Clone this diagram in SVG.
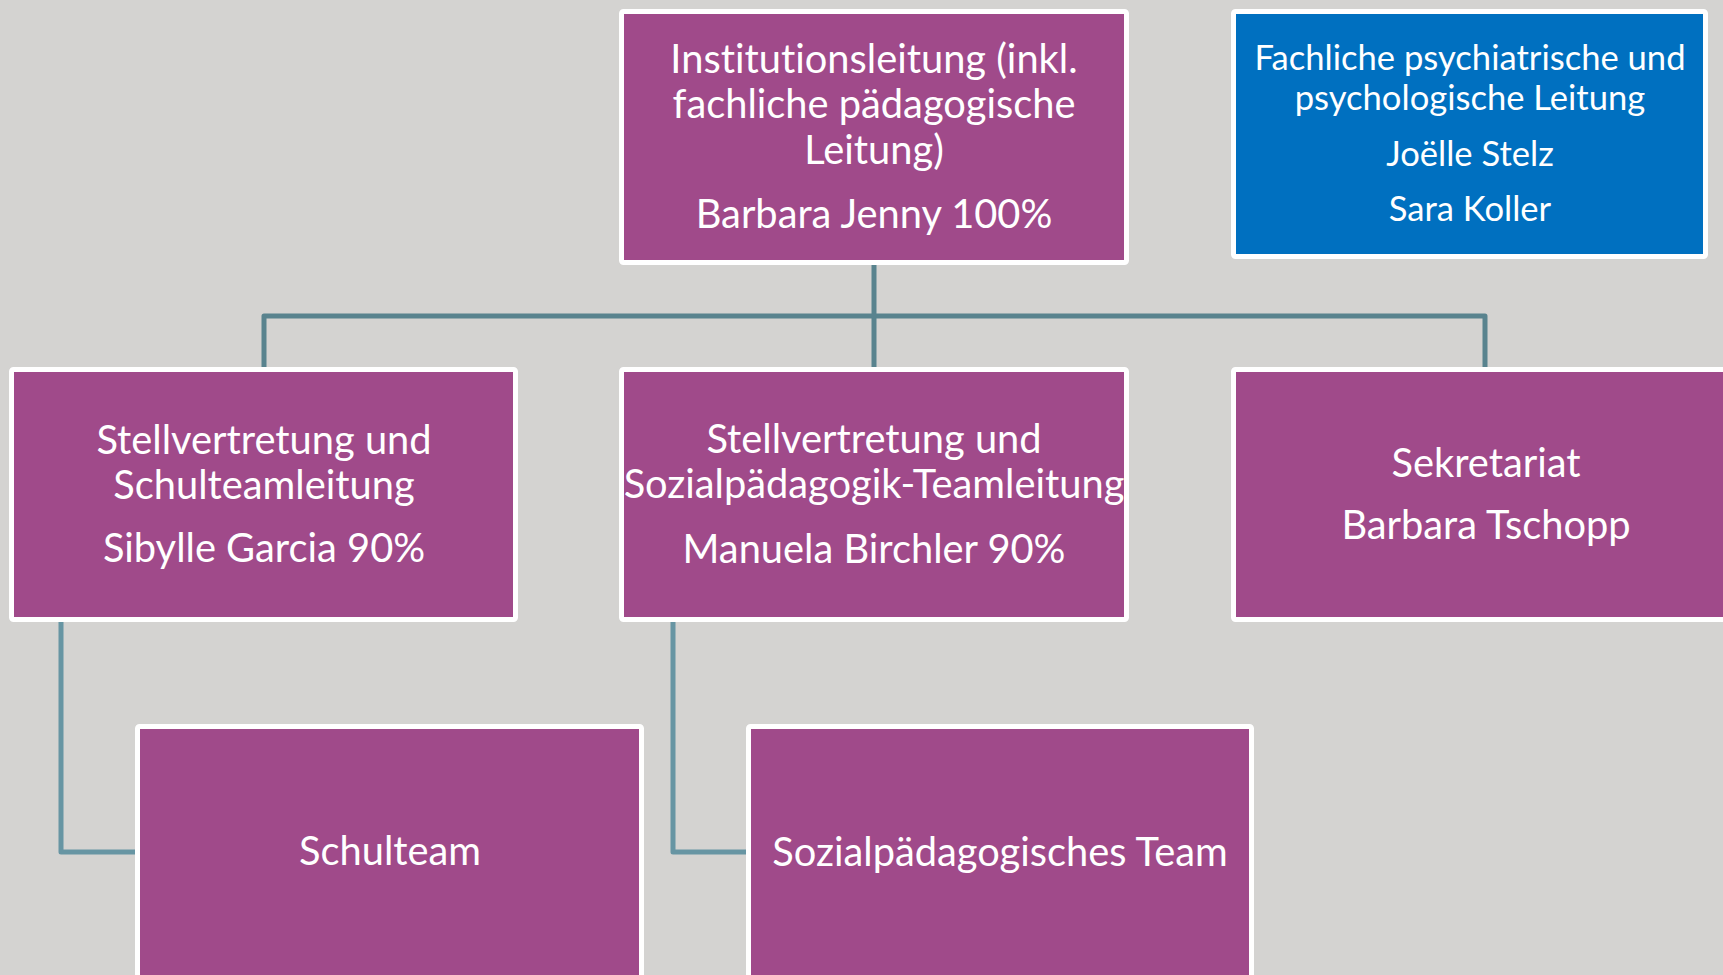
<svg xmlns="http://www.w3.org/2000/svg" width="1723" height="975" viewBox="0 0 1723 975">
<style>
.bg{fill:#D4D3D1}
.box{fill:#A04A8A;stroke:#FFFFFF;stroke-width:5}
.blue{fill:#0070C0;stroke:#FFFFFF;stroke-width:5}
.conn{fill:none;stroke:#59838E;stroke-width:5;stroke-linejoin:round}
.conn2{fill:none;stroke:#6795A3;stroke-width:5;stroke-linejoin:round}
text{font-family:Lato,"Open Sans","Liberation Sans",sans-serif;fill:#FFFFFF;text-anchor:middle;font-variant-ligatures:none}
.t{font-size:39.8px}
.s{font-size:34.6px}
</style>
<rect class="bg" x="0" y="0" width="1723" height="975"/>
<g id="connectors">
<path class="conn" d="M874 265 V367"/>
<path class="conn" d="M264 367 V316 H1485 V367"/>
<path class="conn2" d="M61 622 V852 H136"/>
<path class="conn2" d="M673 622 V852 H747"/>
</g>
<g id="n-institutionsleitung">
<rect class="box" x="621.5" y="11.5" width="505" height="251" rx="2"/>
<text class="t" x="874" y="73">Institutionsleitung (inkl.</text>
<text class="t" x="874" y="118">fachliche pädagogische</text>
<text class="t" x="874" y="164">Leitung)</text>
<text class="t" x="874" y="228">Barbara Jenny 100%</text>
</g>
<g id="n-fachliche-leitung">
<rect class="blue" x="1233.5" y="11.5" width="472" height="245" rx="2"/>
<text class="s" x="1470" y="70">Fachliche psychiatrische und</text>
<text class="s" x="1470" y="110">psychologische Leitung</text>
<text class="s" x="1470" y="166">Joëlle Stelz</text>
<text class="s" x="1470" y="221">Sara Koller</text>
</g>
<g id="n-schulteamleitung">
<rect class="box" x="11.5" y="369.5" width="504" height="250" rx="2"/>
<text class="t" x="264" y="454">Stellvertretung und</text>
<text class="t" x="264" y="499">Schulteamleitung</text>
<text class="t" x="264" y="562">Sibylle Garcia 90%</text>
</g>
<g id="n-sozialteamleitung">
<rect class="box" x="621.5" y="369.5" width="505" height="250" rx="2"/>
<text class="t" x="874" y="453">Stellvertretung und</text>
<text class="t" x="874" y="498">Sozialpädagogik-Teamleitung</text>
<text class="t" x="874" y="563">Manuela Birchler 90%</text>
</g>
<g id="n-sekretariat">
<rect class="box" x="1233.5" y="369.5" width="505" height="250" rx="2"/>
<text class="t" x="1486" y="477">Sekretariat</text>
<text class="t" x="1486" y="539">Barbara Tschopp</text>
</g>
<g id="n-schulteam">
<rect class="box" x="137.5" y="726.5" width="504" height="300" rx="2"/>
<text class="t" x="390" y="865">Schulteam</text>
</g>
<g id="n-sozialteam">
<rect class="box" x="748.5" y="726.5" width="503" height="300" rx="2"/>
<text class="t" x="1000" y="866">Sozialpädagogisches Team</text>
</g>
</svg>
